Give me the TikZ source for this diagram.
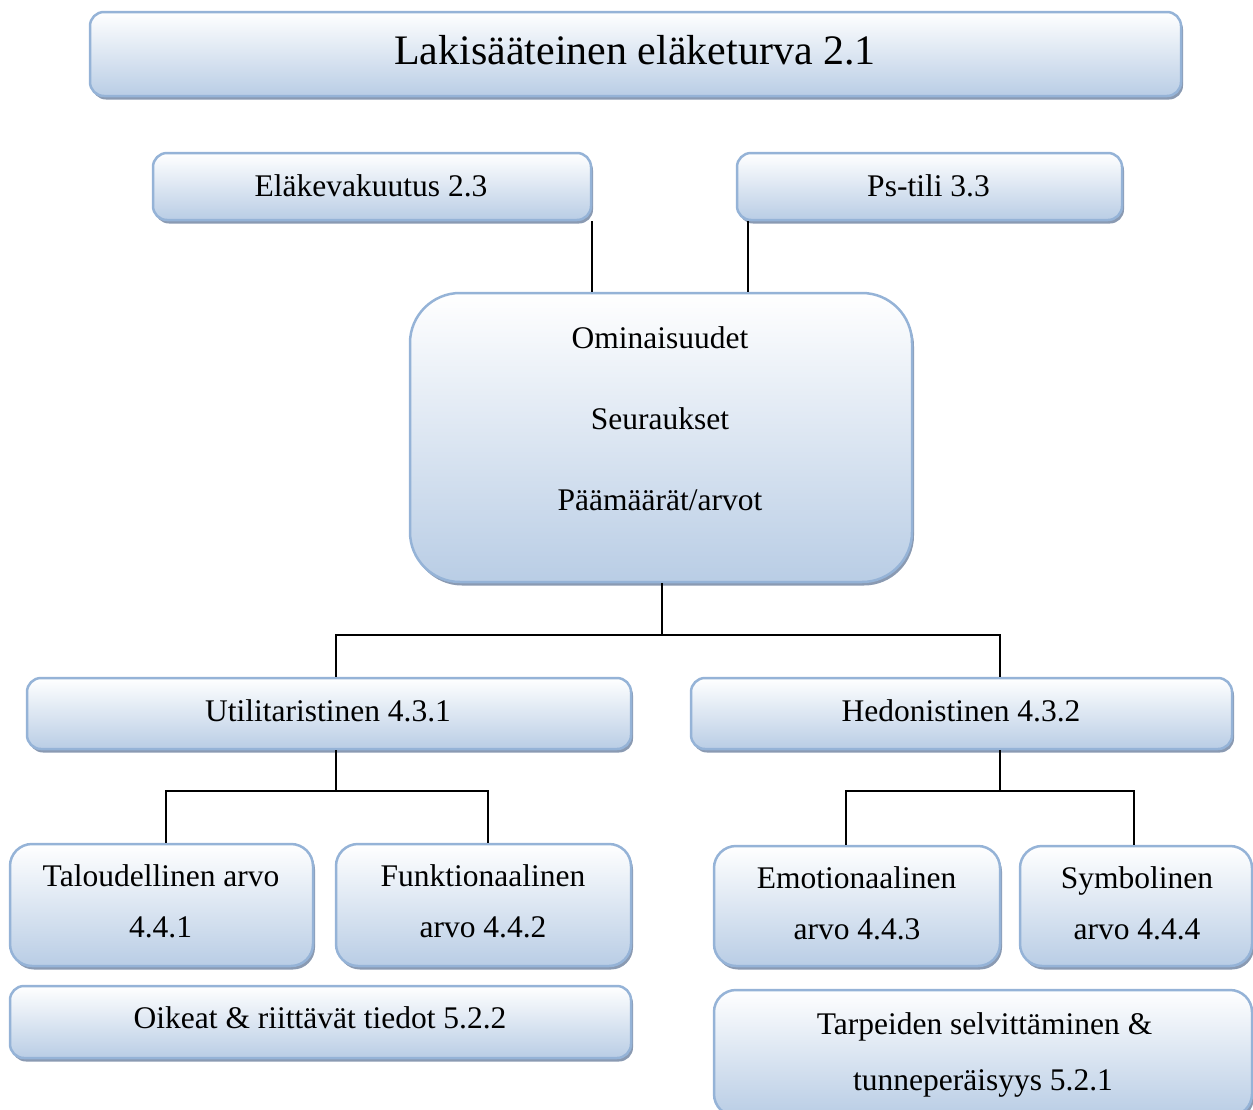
\documentclass[tikz,border=0pt]{standalone}
\usepackage{fontspec}
\setmainfont{Liberation Serif}
\usetikzlibrary{shadows}

\definecolor{boxedge}{RGB}{149,179,215}
\definecolor{boxlow}{RGB}{185,205,229}
\definecolor{boxshade}{RGB}{138,154,178}

\tikzset{
  box/.style={draw=boxedge, line width=2.5pt, rounded corners=14pt,
    top color=white, bottom color=boxlow, inner sep=0pt,
    drop shadow={shadow xshift=2pt, shadow yshift=-3.5pt, fill=boxshade, opacity=1}},
  txt/.style={font=\fontsize{31.5}{40}\selectfont, inner sep=0pt,
    text height=21pt, text depth=0pt},
  bigtxt/.style={font=\fontsize{42}{50}\selectfont, inner sep=0pt,
    text height=28pt, text depth=0pt},
  link/.style={line width=1.6pt, black}
}

\begin{document}
\begin{tikzpicture}[x=1pt, y=-1pt]
\useasboundingbox (0,0) rectangle (1253,1109);
\clip (0,0) rectangle (1253,1109);

% boxes
\node[box, minimum width=1091pt, minimum height=84pt] (title) at (635.5,54) {};
\node[box, minimum width=438pt, minimum height=67pt] (ela) at (372,186.5) {};
\node[box, minimum width=385pt, minimum height=67pt] (ps) at (929.5,186.5) {};
\node[box, rounded corners=50pt, minimum width=502pt, minimum height=289pt] (omi) at (661,437.5) {};
\node[box, minimum width=604pt, minimum height=71pt] (util) at (329,713.5) {};
\node[box, minimum width=541pt, minimum height=71pt] (hedo) at (961.5,713.5) {};
\node[box, rounded corners=22pt, minimum width=303pt, minimum height=122pt] (talo) at (161.5,905) {};
\node[box, rounded corners=22pt, minimum width=295pt, minimum height=122pt] (funk) at (483.5,905) {};
\node[box, rounded corners=22pt, minimum width=286pt, minimum height=120pt] (emo) at (857,906) {};
\node[box, rounded corners=22pt, minimum width=232pt, minimum height=120pt] (sym) at (1136,906) {};
\node[box, minimum width=621pt, minimum height=72pt] (oik) at (320.5,1022) {};
\node[box, rounded corners=22pt, minimum width=538pt, minimum height=126pt] (tarp) at (983,1053) {};

% texts
\node[bigtxt] (tTitle) at (635,50) {Lakisääteinen eläketurva 2.1};
\node[txt] (tEla) at (371,186) {Eläkevakuutus 2.3};
\node[txt] (tPs) at (928.5,186) {Ps-tili 3.3};
\node[txt] (tOmiA) at (660,337.5) {Ominaisuudet};
\node[txt] (tOmiB) at (660,419) {Seuraukset};
\node[txt] (tOmiC) at (660,500) {Päämäärät/arvot};
\node[txt] (tUtil) at (328,711) {Utilitaristinen 4.3.1};
\node[txt] (tHedo) at (961,711) {Hedonistinen 4.3.2};
\node[txt] (tTaloA) at (161,876) {Taloudellinen arvo};
\node[txt] (tTaloB) at (160.5,927) {4.4.1};
\node[txt] (tFunkA) at (483,876) {Funktionaalinen};
\node[txt] (tFunkB) at (483,927) {arvo 4.4.2};
\node[txt] (tEmoA) at (856.5,878) {Emotionaalinen};
\node[txt] (tEmoB) at (857,929) {arvo 4.4.3};
\node[txt] (tSymA) at (1137,878) {Symbolinen};
\node[txt] (tSymB) at (1137,929) {arvo 4.4.4};
\node[txt] (tOik) at (320,1018) {Oikeat \& riittävät tiedot 5.2.2};
\node[txt] (tTarpA) at (984.5,1024) {Tarpeiden selvittäminen \&};
\node[txt] (tTarpB) at (983,1080) {tunneperäisyys 5.2.1};

% connectors
\coordinate (j1) at (662,635);
\coordinate (j2) at (336,791);
\coordinate (j3) at (1000,791);

\draw[link] (ela.south east) -- (ela.south east |- omi.north);
\draw[link] ([xshift=12pt]ps.south west) -- ([xshift=12pt]ps.south west |- omi.north);

\draw[link] ([xshift=1pt]omi.south) -- ([xshift=1pt]omi.south |- j1);
\draw[link] ([xshift=7pt]util.north) |- (j1) -| ([xshift=38.5pt]hedo.north);

\draw[link] ([xshift=7pt]util.south) -- (j2);
\draw[link] ([xshift=4.5pt]talo.north) |- (j2) -| ([xshift=4.5pt]funk.north);

\draw[link] ([xshift=38.5pt]hedo.south) -- (j3);
\draw[link] ([xshift=-11pt]emo.north) |- (j3) -| ([xshift=-2pt]sym.north);
\end{tikzpicture}
\end{document}
